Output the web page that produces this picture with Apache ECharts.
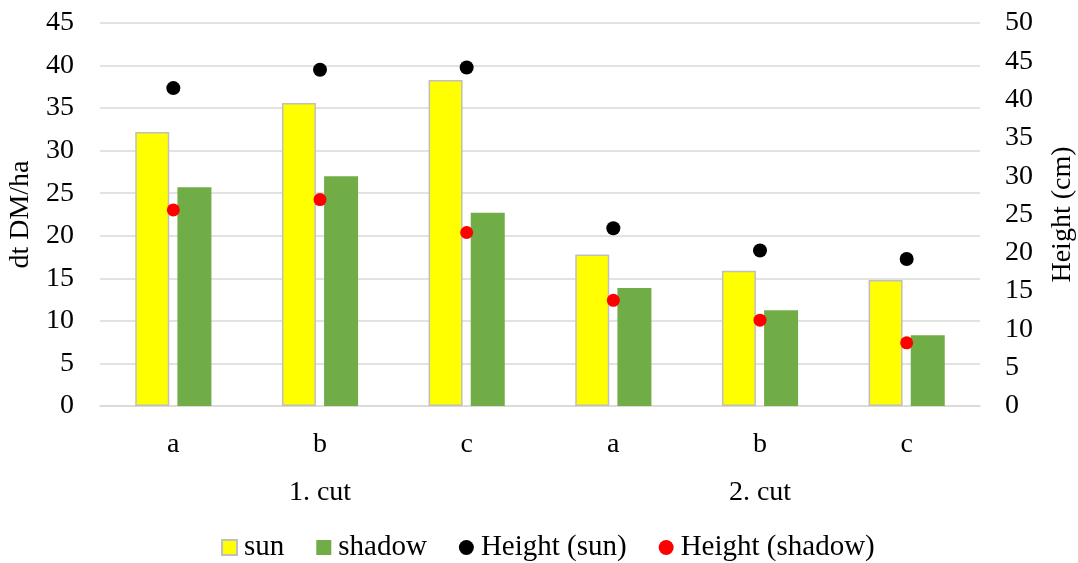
<!DOCTYPE html>
<html>
<head>
<meta charset="utf-8">
<script src="https://cdn.jsdelivr.net/npm/echarts@6/dist/echarts.min.js"></script>
<style>html,body{margin:0;padding:0;background:#fff;}#c{width:1078px;height:563px;}</style>
</head>
<body>
<div id="c"></div>
<script>
var categories = ['a', 'b', 'c', 'a', 'b', 'c'];
var groups = ['1. cut', '2. cut'];
var sunDM = [32.2, 35.6, 38.3, 17.8, 15.9, 14.8];
var shadowDM = [25.7, 27.0, 22.7, 13.85, 11.25, 8.3];
var heightSun = [41.5, 43.9, 44.2, 23.2, 20.3, 19.2];
var heightShadow = [25.6, 26.95, 22.65, 13.8, 11.2, 8.25];
var leftTicks = {min: 0, max: 45, interval: 5};
var rightTicks = {min: 0, max: 50, interval: 5};

var FONT = 'Liberation Serif';
var FS = 28;
var chart = echarts.init(document.getElementById('c'), null, {renderer: 'canvas'});
chart.setOption({
  animation: false,
  textStyle: {fontFamily: FONT, color: '#000'},
  grid: {left: 100, right: 98, top: 23, bottom: 157, containLabel: false, outerBoundsMode: 'none'},
  legend: {
    top: 528, left: 216, itemWidth: 15, itemHeight: 15, itemGap: 32,
    textStyle: {fontFamily: FONT, fontSize: 29, color: '#000', padding: [0, 0, 0, 2]},
    data: [
      {name: 'sun', icon: 'rect'},
      {name: 'shadow', icon: 'rect'},
      {name: 'Height (sun)', icon: 'circle'},
      {name: 'Height (shadow)', icon: 'circle'}
    ]
  },
  xAxis: [
    {type: 'category', data: categories, position: 'bottom',
     axisLine: {show: true, lineStyle: {color: '#d9d9d9', width: 1.5}},
     axisTick: {show: false},
     axisLabel: {fontFamily: FONT, fontSize: FS, color: '#000', margin: 25}},
    {type: 'category', data: groups, position: 'bottom', offset: 48,
     axisLine: {show: false}, axisTick: {show: false},
     axisLabel: {fontFamily: FONT, fontSize: FS, color: '#000', margin: 25}}
  ],
  yAxis: [
    {type: 'value', min: leftTicks.min, max: leftTicks.max, interval: leftTicks.interval,
     name: 'dt DM/ha', nameLocation: 'middle', nameGap: 55, nameRotate: 90,
     nameTextStyle: {fontFamily: FONT, fontSize: FS, color: '#000'},
     axisLine: {show: false}, axisTick: {show: false},
     axisLabel: {fontFamily: FONT, fontSize: FS, color: '#000', margin: 26},
     splitLine: {show: true, lineStyle: {color: '#d9d9d9', width: 1.5}}},
    {type: 'value', min: rightTicks.min, max: rightTicks.max, interval: rightTicks.interval,
     name: 'Height (cm)', nameLocation: 'middle', nameGap: 69, nameRotate: 90,
     nameTextStyle: {fontFamily: FONT, fontSize: FS, color: '#000'},
     axisLine: {show: false}, axisTick: {show: false},
     axisLabel: {fontFamily: FONT, fontSize: FS, color: '#000', margin: 25},
     splitLine: {show: false}}
  ],
  series: [
    {name: 'sun', type: 'bar', data: sunDM, barWidth: 34, barGap: '24%',
     itemStyle: {color: '#ffff00', borderColor: '#bfbfbf', borderWidth: 1.5}},
    {name: 'shadow', type: 'bar', data: shadowDM, barWidth: 34, barGap: '24%',
     itemStyle: {color: '#70ad47'}},
    {name: 'Height (sun)', type: 'scatter', yAxisIndex: 1, data: heightSun,
     symbolSize: 14, itemStyle: {color: '#000000', opacity: 1}, z: 5},
    {name: 'Height (shadow)', type: 'scatter', yAxisIndex: 1, data: heightShadow,
     symbolSize: 13, itemStyle: {color: '#ff0000', opacity: 1}, z: 5}
  ]
});
</script>
</body>
</html>
